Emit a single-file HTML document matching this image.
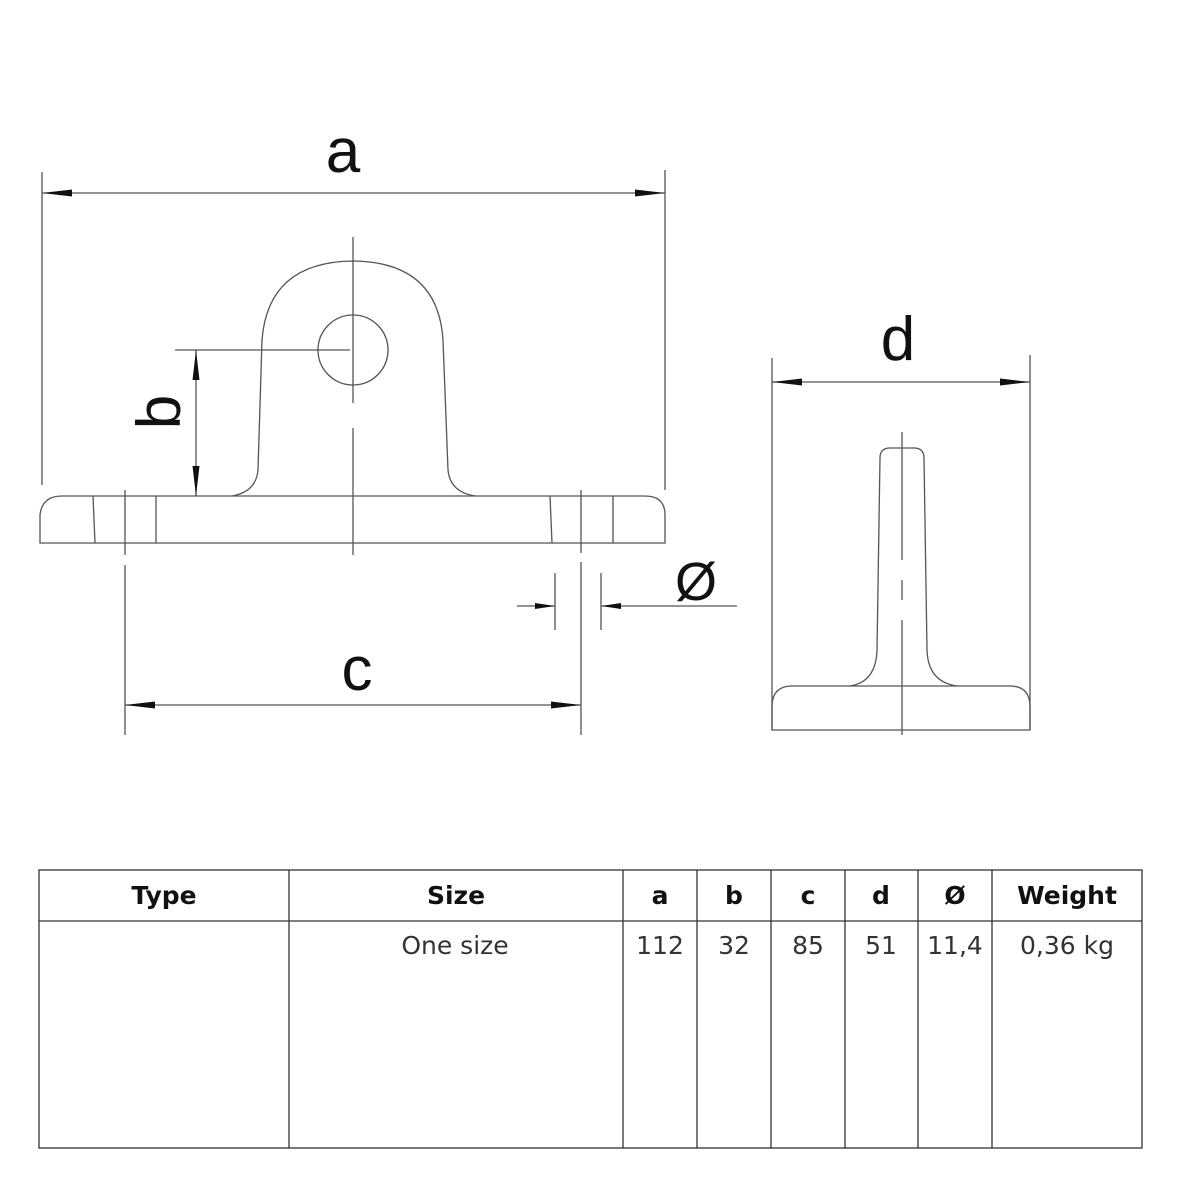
<!DOCTYPE html>
<html><head><style>
html,body{margin:0;padding:0;background:#fff;}
svg{display:block;}
</style></head><body>
<svg width="1182" height="1182" viewBox="0 0 1182 1182" xmlns="http://www.w3.org/2000/svg">
<defs>
<marker id="ar" viewBox="0 0 30 10" refX="30" refY="5" markerWidth="30" markerHeight="10" markerUnits="userSpaceOnUse" orient="auto-start-reverse"><path d="M0,1.5 L30,5 L0,8.5 z" fill="#111"/></marker>
<marker id="ar2" viewBox="0 0 20 8" refX="20" refY="4" markerWidth="20" markerHeight="8" markerUnits="userSpaceOnUse" orient="auto-start-reverse"><path d="M0,1 L20,4 L0,7 z" fill="#111"/></marker>
</defs>
<g fill="none" stroke="#555" stroke-width="1.3">
<path d="M40,543 L40,515 Q42,496 62,496 L645,496 Q665,496 665,515 L665,543 Z"/>
<path d="M232,496 Q256,492 258,470 L262,340 Q268,262 353,261 Q438,262 443,340 L448,470 Q450,492 475,496"/>
<ellipse cx="353" cy="350" rx="35" ry="35"/>
<line x1="93" y1="496" x2="95" y2="543"/>
<line x1="156" y1="496" x2="156" y2="543"/>
<line x1="550" y1="496" x2="552" y2="543"/>
<line x1="613" y1="496" x2="613" y2="543"/>
<line x1="125" y1="490" x2="125" y2="555"/>
<line x1="581" y1="490" x2="581" y2="553"/>
<line x1="353" y1="237" x2="353" y2="403"/>
<line x1="353" y1="428" x2="353" y2="555"/>
<line x1="42" y1="172" x2="42" y2="485"/>
<line x1="665" y1="170" x2="665" y2="490"/>
<line x1="42" y1="193" x2="665" y2="193" marker-start="url(#ar)" marker-end="url(#ar)"/>
<line x1="175" y1="350" x2="350" y2="350"/>
<line x1="196" y1="350" x2="196" y2="496" marker-start="url(#ar)" marker-end="url(#ar)"/>
<line x1="125" y1="565" x2="125" y2="735"/>
<line x1="581" y1="562" x2="581" y2="735"/>
<line x1="125" y1="705" x2="581" y2="705" marker-start="url(#ar)" marker-end="url(#ar)"/>
<line x1="517" y1="606" x2="555" y2="606" marker-end="url(#ar2)"/>
<line x1="737" y1="606" x2="601" y2="606" marker-end="url(#ar2)"/>
<line x1="555" y1="573" x2="555" y2="630"/>
<line x1="601" y1="573" x2="601" y2="630"/>
<line x1="772" y1="358" x2="772" y2="730"/>
<line x1="1030" y1="355" x2="1030" y2="730"/>
<line x1="772" y1="382" x2="1030" y2="382" marker-start="url(#ar)" marker-end="url(#ar)"/>
<path d="M772,730 L772,705 Q773,686 792,686 L1010,686 Q1029,686 1030,705 L1030,730 Z"/>
<path d="M850,686 Q876,682 877,650 L880,458 Q880,448 890,448 L914,448 Q924,448 924,458 L927,650 Q928,682 957,686"/>
<line x1="902" y1="432" x2="902" y2="560"/>
<line x1="902" y1="580" x2="902" y2="600"/>
<line x1="902" y1="620" x2="902" y2="735"/>
</g>
<g font-family="'Liberation Sans',sans-serif" fill="#111">
<text x="343" y="172" font-size="62" text-anchor="middle">a</text>
<text x="357" y="690" font-size="62" text-anchor="middle">c</text>
<text x="898" y="360" font-size="62" text-anchor="middle">d</text>
<text transform="translate(180,412) rotate(-90)" font-size="62" text-anchor="middle">b</text>
<text x="696" y="600" font-size="54" text-anchor="middle">Ø</text>
</g>
<g stroke="#333" stroke-width="1.3" fill="none">
<rect x="39" y="870" width="1103" height="278"/>
<line x1="39" y1="921" x2="1142" y2="921"/>
<line x1="289" y1="870" x2="289" y2="1148"/>
<line x1="623" y1="870" x2="623" y2="1148"/>
<line x1="697" y1="870" x2="697" y2="1148"/>
<line x1="771" y1="870" x2="771" y2="1148"/>
<line x1="845" y1="870" x2="845" y2="1148"/>
<line x1="918" y1="870" x2="918" y2="1148"/>
<line x1="992" y1="870" x2="992" y2="1148"/>
</g>
<g font-family="'DejaVu Sans',sans-serif" font-size="25" text-anchor="middle" fill="#111">
<g font-weight="bold">
<text x="164" y="904">Type</text>
<text x="456" y="904">Size</text>
<text x="660" y="904">a</text>
<text x="734" y="904">b</text>
<text x="808" y="904">c</text>
<text x="881" y="904">d</text>
<text x="955" y="904">Ø</text>
<text x="1067" y="904">Weight</text>
</g>
<g fill="#333">
<text x="455" y="954">One size</text>
<text x="660" y="954">112</text>
<text x="734" y="954">32</text>
<text x="808" y="954">85</text>
<text x="881" y="954">51</text>
<text x="955" y="954">11,4</text>
<text x="1067" y="954">0,36 kg</text>
</g>
</g>
</svg>
</body></html>
